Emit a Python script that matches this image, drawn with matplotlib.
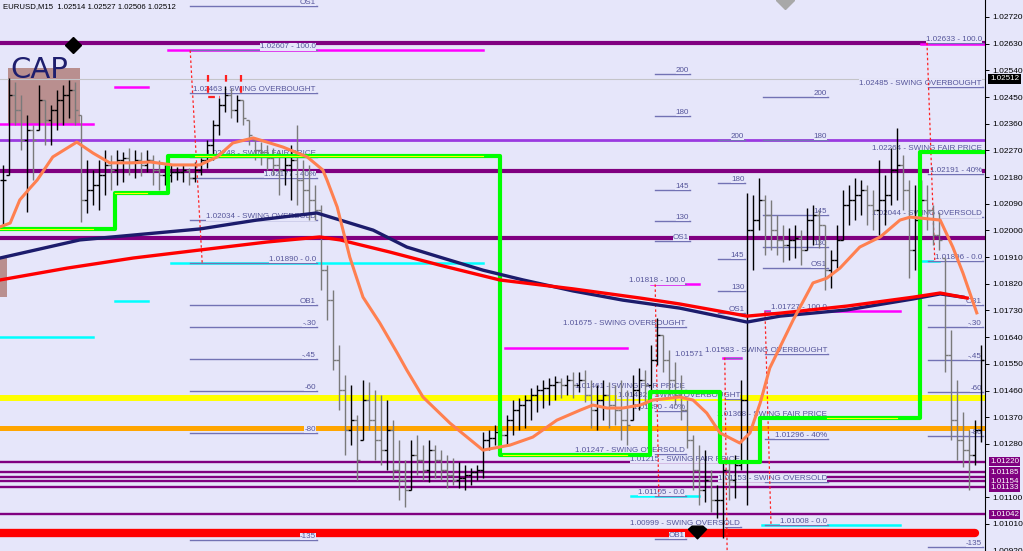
import matplotlib
matplotlib.use("Agg")
import matplotlib.pyplot as plt
import matplotlib.transforms as mtransforms
from matplotlib.patches import Rectangle
from matplotlib.path import Path
import numpy as np

plt.rcParams['font.family'] = ['Liberation Sans', 'DejaVu Sans']

# --- Price bars (EURUSD, M15) ---
high = [1.02221, 1.02514, 1.02500, 1.02457, 1.02389, 1.02356, 1.02490, 1.02440, 1.02423, 1.02474,
        1.02490, 1.02507, 1.02500, 1.02389, 1.02238, 1.02204, 1.02238, 1.02271, 1.02254, 1.02271,
        1.02265, 1.02278, 1.02271, 1.02265, 1.02271, 1.02254, 1.02238, 1.02221, 1.02221, 1.02214,
        1.02221, 1.02211, 1.02231, 1.02244, 1.02305, 1.02373, 1.02447, 1.02487, 1.02480, 1.02457,
        1.02440, 1.02373, 1.02305, 1.02298, 1.02288, 1.02278, 1.02271, 1.02254, 1.02288, 1.02356,
        1.02238, 1.02221, 1.02153, 1.02086, 1.01883, 1.01799, 1.01613, 1.01512, 1.01478, 1.01377,
        1.01495, 1.01488, 1.01461, 1.01444, 1.01428, 1.01360, 1.01293, 1.01225, 1.01293, 1.01310,
        1.01276, 1.01293, 1.01276, 1.01259, 1.01242, 1.01232, 1.01219, 1.01208, 1.01198, 1.01208,
        1.01320, 1.01327, 1.01344, 1.01334, 1.01377, 1.01428, 1.01434, 1.01444, 1.01468, 1.01478,
        1.01495, 1.01502, 1.01509, 1.01502, 1.01512, 1.01522, 1.01522, 1.01529, 1.01495, 1.01478,
        1.01495, 1.01488, 1.01478, 1.01495, 1.01461, 1.01512, 1.01536, 1.01529, 1.01613, 1.01704,
        1.01647, 1.01596, 1.01556, 1.01512, 1.01428, 1.01310, 1.01276, 1.01259, 1.01192, 1.01141,
        1.01225, 1.01219, 1.01242, 1.01495, 1.02126, 1.02119, 1.02177, 1.02119, 1.02103, 1.02052,
        1.02018, 1.02008, 1.02018, 1.02001, 1.02076, 1.02086, 1.02069, 1.02018, 1.01934, 1.02018,
        1.02136, 1.02153, 1.02177, 1.02170, 1.02153, 1.02136, 1.02238, 1.02187, 1.02278, 1.02345,
        1.02254, 1.02170, 1.02153, 1.02170, 1.02153, 1.02086, 1.02062, 1.01907, 1.01664, 1.01495,
        1.01388, 1.01327, 1.01360, 1.01613]
low = [1.02009, 1.02187, 1.02356, 1.02271, 1.02063, 1.02170, 1.02339, 1.02288, 1.02288, 1.02339,
       1.02356, 1.02379, 1.02356, 1.02029, 1.02059, 1.02086, 1.02069, 1.02120, 1.02136, 1.02153,
       1.02163, 1.02187, 1.02177, 1.02184, 1.02197, 1.02153, 1.02136, 1.02153, 1.02163, 1.02170,
       1.02163, 1.02153, 1.02163, 1.02187, 1.02211, 1.02238, 1.02322, 1.02399, 1.02379, 1.02366,
       1.02356, 1.02288, 1.02238, 1.02221, 1.02204, 1.02187, 1.02120, 1.02153, 1.02103, 1.02086,
       1.02052, 1.02035, 1.02035, 1.01799, 1.01698, 1.01529, 1.01394, 1.01242, 1.01276, 1.01158,
       1.01293, 1.01327, 1.01225, 1.01208, 1.01192, 1.01158, 1.01090, 1.01066, 1.01124, 1.01175,
       1.01158, 1.01152, 1.01165, 1.01158, 1.01131, 1.01141, 1.01131, 1.01124, 1.01141, 1.01158,
       1.01165, 1.01259, 1.01276, 1.01293, 1.01276, 1.01310, 1.01327, 1.01334, 1.01360, 1.01387,
       1.01401, 1.01411, 1.01428, 1.01434, 1.01444, 1.01434, 1.01455, 1.01421, 1.01334, 1.01327,
       1.01360, 1.01334, 1.01344, 1.01293, 1.01276, 1.01360, 1.01394, 1.01411, 1.01444, 1.01546,
       1.01522, 1.01444, 1.01411, 1.01360, 1.01266, 1.01124, 1.01073, 1.01083, 1.01050, 1.01029,
       1.00962, 1.01090, 1.01097, 1.01192, 1.01073, 1.01866, 1.02001, 1.01917, 1.01934, 1.01917,
       1.01893, 1.01900, 1.01907, 1.01883, 1.01934, 1.01951, 1.01941, 1.01799, 1.01806, 1.01873,
       1.01968, 1.02018, 1.02035, 1.02052, 1.02018, 1.02001, 1.01984, 1.02018, 1.02086, 1.02103,
       1.02069, 1.01839, 1.01866, 1.01984, 1.02001, 1.01951, 1.01934, 1.01522, 1.01293, 1.01225,
       1.01202, 1.01124, 1.01208, 1.01286]
close = [1.02170, 1.02457, 1.02406, 1.02305, 1.02339, 1.02305, 1.02440, 1.02373, 1.02406, 1.02440,
         1.02457, 1.02474, 1.02406, 1.02103, 1.02136, 1.02153, 1.02187, 1.02221, 1.02204, 1.02238,
         1.02244, 1.02231, 1.02238, 1.02221, 1.02238, 1.02204, 1.02187, 1.02187, 1.02197, 1.02197,
         1.02204, 1.02177, 1.02204, 1.02238, 1.02288, 1.02356, 1.02423, 1.02457, 1.02406, 1.02440,
         1.02379, 1.02322, 1.02271, 1.02265, 1.02244, 1.02221, 1.02204, 1.02221, 1.02238, 1.02170,
         1.02136, 1.02103, 1.02069, 1.01866, 1.01765, 1.01563, 1.01461, 1.01327, 1.01360, 1.01225,
         1.01428, 1.01360, 1.01293, 1.01259, 1.01327, 1.01192, 1.01158, 1.01124, 1.01242, 1.01225,
         1.01192, 1.01259, 1.01225, 1.01192, 1.01175, 1.01158, 1.01165, 1.01175, 1.01185, 1.01192,
         1.01293, 1.01300, 1.01320, 1.01310, 1.01360, 1.01394, 1.01411, 1.01428, 1.01444, 1.01461,
         1.01468, 1.01478, 1.01488, 1.01478, 1.01495, 1.01478, 1.01495, 1.01444, 1.01394, 1.01428,
         1.01444, 1.01411, 1.01394, 1.01360, 1.01344, 1.01461, 1.01495, 1.01478, 1.01563, 1.01647,
         1.01563, 1.01495, 1.01444, 1.01394, 1.01293, 1.01192, 1.01124, 1.01158, 1.01090, 1.01090,
         1.01192, 1.01158, 1.01208, 1.01428, 1.02001, 1.02035, 1.02103, 1.02052, 1.02001, 1.01968,
         1.01951, 1.01968, 1.01974, 1.01934, 1.02035, 1.02052, 1.02018, 1.01866, 1.01900, 1.01968,
         1.02086, 1.02103, 1.02120, 1.02136, 1.02086, 1.02069, 1.02103, 1.02120, 1.02204, 1.02221,
         1.02136, 1.01934, 1.02035, 1.02103, 1.02069, 1.01984, 1.01968, 1.01580, 1.01360, 1.01293,
         1.01259, 1.01242, 1.01327, 1.01563]

# --- Moving averages (bar index, price) ---
ma_fast_x = [-0.5, 1.2, 2.8, 4.5, 5.7, 8.3, 12.3, 15.0, 17.8, 21.7, 24.5, 28.3, 32.8, 35.7, 38.3,
             41.7, 44.0, 46.7, 50.7, 53.3, 54.0, 55.7, 57.8, 60.0, 62.8, 65.7, 67.3, 70.0, 74.5,
             80.0, 84.5, 88.3, 92.3, 96.2, 98.3, 100.7, 103.3, 106.2, 108.3, 112.8, 115.0, 117.3,
             119.5, 122.8, 124.5, 126.2, 127.8, 131.7, 135.0, 137.3, 139.5, 142.8, 146.2, 149.5,
             151.2, 152.8, 156.2, 158.3, 160.0, 162.3]
ma_fast = [1.02012, 1.02025, 1.02103, 1.02143, 1.02170, 1.02248, 1.02298, 1.02261, 1.02228, 1.02228,
           1.02231, 1.02221, 1.02221, 1.02248, 1.02295, 1.02312, 1.02298, 1.02281, 1.02248, 1.02204,
           1.02170, 1.02079, 1.01910, 1.01775, 1.01688, 1.01587, 1.01529, 1.01438, 1.01350, 1.01259,
           1.01276, 1.01303, 1.01360, 1.01394, 1.01411, 1.01401, 1.01401, 1.01411, 1.01428, 1.01438,
           1.01428, 1.01384, 1.01317, 1.01283, 1.01317, 1.01418, 1.01536, 1.01698, 1.01823, 1.01839,
           1.01873, 1.01944, 1.01978, 1.02035, 1.02045, 1.02042, 1.02035, 1.01944, 1.01856, 1.01722]
ma_slow_x = [-0.5, 12.8, 32.8, 42.3, 52.3, 56.2, 61.7, 67.3, 72.8, 80.0, 86.7, 95.0, 103.3, 112.8,
             118.3, 124.0, 129.5, 140.7, 151.7, 156.2, 160.0]
ma_slow = [1.01907, 1.01968, 1.02005, 1.02035, 1.02059, 1.02035, 1.02001, 1.01944, 1.01910, 1.01866,
           1.01833, 1.01796, 1.01765, 1.01738, 1.01715, 1.01691, 1.01711, 1.01732, 1.01769, 1.01786,
           1.01775]
ma_red_x = [-0.5, 10.7, 21.7, 32.8, 44.0, 52.8, 56.2, 64.5, 72.8, 82.8, 95.0, 106.2, 112.8, 118.3,
            124.0, 129.5, 140.7, 151.7, 156.2, 160.7]
ma_red = [1.01833, 1.01873, 1.01907, 1.01934, 1.01961, 1.01978, 1.01968, 1.01927, 1.01883, 1.01833,
          1.01803, 1.01772, 1.01752, 1.01732, 1.01711, 1.01721, 1.01745, 1.01775, 1.01789, 1.01772]

# --- Trend step line (bar index where each step starts, level) ---
step_x = [-0.5, 18.7, 27.5, 82.8, 107.8, 119.5, 126.2, 152.8, 163.7]
step_lv = [1.02005, 1.02126, 1.02251, 1.01242, 1.01455, 1.01219, 1.01367, 1.02264, 1.02264]
step_hi = [(-0.5, 15.0, 1.02005), (18.7, 24.0, 1.02126), (32.0, 80.0, 1.02251),
           (83.3, 104.0, 1.01242), (137.3, 149.0, 1.01367)]

# --- Horizontal levels ---
pivot_levels = [1.02633, 1.02200, 1.01974]
violet_level = 1.02305
yellow_level = 1.01434
orange_level = 1.01334
support_levels = [1.01220, 1.01185, 1.01168, 1.01154, 1.01133, 1.01042]
red_level = 1.00980
bid = 1.02512
box_levels = [1.01220, 1.01185, 1.01154, 1.01133, 1.01042]

# segments: (from bar, to bar, level)
magenta_segs = [(27.5, 80, 1.02607), (18.7, 24.2, 1.02484), (-0.5, 15, 1.02359), (153, 163.7, 1.02628),
                (83.7, 104, 1.01603), (127, 149.5, 1.01727), (108, 116, 1.01818), (120, 123, 1.01571)]
cyan_segs = [(28, 80, 1.01890), (18.7, 24.2, 1.01762), (-0.5, 15, 1.01641), (153, 156, 1.01896),
             (104.7, 116, 1.01105), (126.5, 149.5, 1.01008)]

# fibonacci anchors: (bar1, price1, bar2, price2)
fib_anchors = [(31.2, 1.02607, 33.2, 1.01890), (154.0, 1.02633, 155.3, 1.01896),
               (108.7, 1.01818, 109.3, 1.01105), (127.0, 1.01727, 128.0, 1.01008),
               (120.3, 1.01571, 120.7, 1.00900)]

# --- Fibonacci label sets ---
fib_left = [("OS1", 1.02757), ("1.02607 - 100.0", 1.02607), ("1.02463 - SWING OVERBOUGHT", 1.02463),
            ("1.02248 - SWING FAIR PRICE", 1.02248), ("1.02177 - 40%", 1.02177),
            ("1.02034 - SWING OVERSOLD", 1.02034), ("1.01890 - 0.0", 1.01890), ("OB1", 1.01749),
            ("-.30", 1.01674), ("-.45", 1.01566), ("-60", 1.01458), ("-80", 1.01317), ("-135", 1.00956)]
fib_right = [("1.02633 - 100.0", 1.02633), ("1.02485 - SWING OVERBOUGHT", 1.02485),
             ("1.02264 - SWING FAIR PRICE", 1.02264), ("1.02191 - 40%", 1.02191),
             ("1.02044 - SWING OVERSOLD", 1.02044), ("1.01896 - 0.0", 1.01896), ("OB1", 1.01749),
             ("-.30", 1.01674), ("-.45", 1.01563), ("-60", 1.01455), ("-80", 1.01307), ("-135", 1.00932)]
fib_a = [("1.01818 - 100.0", 1.01818), ("1.01675 - SWING OVERBOUGHT", 1.01675),
         ("1.01461 - SWING FAIR PRICE", 1.01461), ("1.01390 - 40%", 1.01390),
         ("1.01247 - SWING OVERSOLD", 1.01247), ("1.01105 - 0.0", 1.01105), ("OB1", 1.00960)]
fib_b = [("1.01727 - 100.0", 1.01727), ("1.01583 - SWING OVERBOUGHT", 1.01583),
         ("1.01368 - SWING FAIR PRICE", 1.01368), ("1.01296 - 40%", 1.01296),
         ("1.01153 - SWING OVERSOLD", 1.01153), ("1.01008 - 0.0", 1.01008)]
fib_c = [("1.01432 - SWING OVERBOUGHT", 1.01432),
         ("1.01215 - SWING FAIR PRICE", 1.01215), ("1.00999 - SWING OVERSOLD", 1.00999)]
fib_c_top = ("1.01571", 1.01571)

lvl_names = ["200", "180", "145", "130", "OS1"]
lvl_n1 = [1.02527, 1.02386, 1.02136, 1.02032, 1.01964]
lvl_n2 = [1.02450, 1.02305, 1.02052, 1.01944, 1.01873]
lvl_n3 = [1.02305, 1.02160, 1.01904, 1.01796, 1.01721]

price_ticks = [1.02720, 1.02630, 1.02540, 1.02450, 1.02360, 1.02270, 1.02180, 1.02090, 1.02000,
               1.01910, 1.01820, 1.01730, 1.01640, 1.01550, 1.01460, 1.01370, 1.01280, 1.01100,
               1.01010, 1.00920]

# --- Figure ---
BG = '#E6E6FA'
FIB = '#7272B4'
TXT = '#55559A'
fig = plt.figure(figsize=(10.23, 5.51), dpi=100, facecolor=BG)
ax = fig.add_axes([0, 0, 985 / 1023, 1])
ax.set_facecolor(BG)
ax.set_xlim(-0.5, 163.67)
ax.set_ylim(1.009188, 1.027773)

# zone boxes
ax.add_patch(Rectangle((0.83, 1.02356), 12.0, 0.00192, fc='#B98F8F', ec='none', zorder=0.5))
ax.add_patch(Rectangle((-0.5, 1.01775), 1.17, 0.00135, fc='#B98F8F', ec='none', zorder=0.5))

# full-width levels
ax.axhline(bid, color='#C4C4C8', lw=0.8, zorder=0.8)
for lv in pivot_levels:
    ax.axhline(lv, color='#800080', lw=3.0, zorder=1)
ax.axhline(violet_level, color='#9A3AE0', lw=2.0, zorder=1)
ax.axhline(yellow_level, color='#FFFF00', lw=4.3, zorder=1)
ax.axhline(orange_level, color='#FFA500', lw=3.6, zorder=1)
for lv in support_levels:
    ax.axhline(lv, color='#800080', lw=1.7, zorder=1)
ax.plot([-0.5, 162], [red_level, red_level], color='#FF0000', lw=6, solid_capstyle='round', zorder=1)

for x0, x1, lv in magenta_segs:
    ax.plot([x0, x1], [lv, lv], color='#FF00FF', lw=1.8, zorder=1.5)
for x0, x1, lv in cyan_segs:
    ax.plot([x0, x1], [lv, lv], color='#00FFFF', lw=1.8, zorder=1.5)


def fib_set(levels, x0, x1):
    for text, p in levels:
        ax.plot([x0, x1], [p, p], color=FIB, lw=1.0, zorder=2)
        ax.text(x1 - 0.15, p, text, ha='right', va='bottom', fontsize=5.8, color=TXT, zorder=2.5,
                bbox=dict(fc=BG, ec='none', pad=0.1))


fib_set(fib_left, 31.2, 52.3)
fib_set(fib_right, 154.2, 163.3)
fib_set(fib_c, 120.3, 123.0)
ax.plot([120.3, 123.0], [fib_c_top[1]] * 2, color=FIB, lw=1.0, zorder=2)
ax.text(116.8, fib_c_top[1], fib_c_top[0], ha='right', va='bottom', fontsize=5.8, color=TXT, zorder=2.5)
fib_set(fib_a, 108.7, 113.8)
fib_set(fib_b, 127.0, 137.5)
fib_set(list(zip(lvl_names, lvl_n1)), 108.7, 114.5)
fib_set(list(zip(lvl_names, lvl_n3)), 119.2, 123.7)
fib_set(list(zip(lvl_names, lvl_n2)), 126.7, 137.5)

for x0, p0, x1, p1 in fib_anchors:
    ax.plot([x0, x1], [p0, p1], color='#FF2020', lw=0.9, ls=(0, (2, 2)), zorder=2.6)

# swing bracket
br_x = [34.2, 36.2, 37.2, 39.7]
br_p = [1.02524, 1.02450, 1.02490]
ax.plot([br_x[0], br_x[0], br_x[1]], [br_p[0], br_p[1], br_p[1]], color='#FF2020', lw=1.6, ls=(0, (3, 2)), zorder=2.6)
ax.plot([br_x[2], br_x[2]], [br_p[0], br_p[2]], color='#FF2020', lw=1.6, ls=(0, (3, 2)), zorder=2.6)
ax.plot([br_x[3], br_x[3]], [br_p[0], br_p[1]], color='#FF2020', lw=1.6, ls=(0, (3, 2)), zorder=2.6)

# --- Bars ---
n = len(high)
idx = np.arange(n)
hi = np.array(high)
lo = np.array(low)
cl = np.array(close)
op = np.clip(np.r_[cl[0], cl[:-1]], lo, hi)
cols = np.where(cl >= op, 'black', '#7A7A7A')
ax.vlines(idx, lo, hi, colors=cols, lw=1.0, zorder=3)
ax.hlines(op, idx - 0.45, idx, colors=cols, lw=1.0, zorder=3)
ax.hlines(cl, idx, idx + 0.45, colors=cols, lw=1.0, zorder=3)

# --- Step line and averages ---
ax.step(step_x, step_lv, where='post', color='#00FF00', lw=3.0, zorder=3.5)
for x0, x1, lv in step_hi:
    ax.plot([x0, x1], [lv, lv], color='#FFFF00', lw=0.8, zorder=3.6)
ax.plot(ma_slow_x, ma_slow, color='#1C1C6C', lw=2.4, zorder=4)
ax.plot(ma_red_x, ma_red, color='#FF0000', lw=2.4, zorder=4.1)
ax.plot(ma_fast_x, ma_fast, color='#FF8050', lw=2.2, zorder=4.2)

# markers
ax.plot([11.7], [1.02625], marker='D', color='black', ms=8, zorder=5)
ax.plot([130.3], [1.02777], marker='D', color='#A8A8A8', ms=9, zorder=5)
arrow = Path([(-1, 0.35), (-0.6, 0.7), (0.6, 0.7), (1, 0.35), (0, -0.7), (-1, 0.35)])
ax.plot([115.7], [1.00983], marker=arrow, color='black', ms=13, zorder=5)

ax.text(1.2, 1.02514, "CAP", fontsize=21, color='#1E1E6E', ha='left', va='baseline',
        family=['DejaVu Sans'], zorder=6)
fig.text(3 / 1023, 1 - 7 / 551, "EURUSD,M15  1.02514 1.02527 1.02506 1.02512", fontsize=5.6,
         ha='left', va='center', color='black')

# --- Price axis ---
for s in ['top', 'left', 'bottom']:
    ax.spines[s].set_visible(False)
ax.spines['right'].set_color('black')
ax.spines['right'].set_linewidth(0.8)
ax.set_xticks([])
ax.yaxis.tick_right()
ax.set_yticks(price_ticks)
ax.set_yticklabels([f"{t:.5f}" for t in price_ticks])
ax.tick_params(axis='y', direction='out', length=3, width=0.7, labelsize=6, pad=2)

trans = mtransforms.blended_transform_factory(ax.transAxes, ax.transData)
for p in box_levels:
    ax.text(1.005, p, f"{p:.5f}", transform=trans, ha='left', va='center', fontsize=5.8, color='white',
            bbox=dict(boxstyle='square,pad=0.15', fc='#800080', ec='none'), clip_on=False, zorder=10)
ax.text(1.005, bid, f"{bid:.5f}", transform=trans, ha='left', va='center', fontsize=5.8, color='white',
        bbox=dict(boxstyle='square,pad=0.2', fc='black', ec='none'), clip_on=False, zorder=10)

fig.savefig('out.png', dpi=100, facecolor=BG)
